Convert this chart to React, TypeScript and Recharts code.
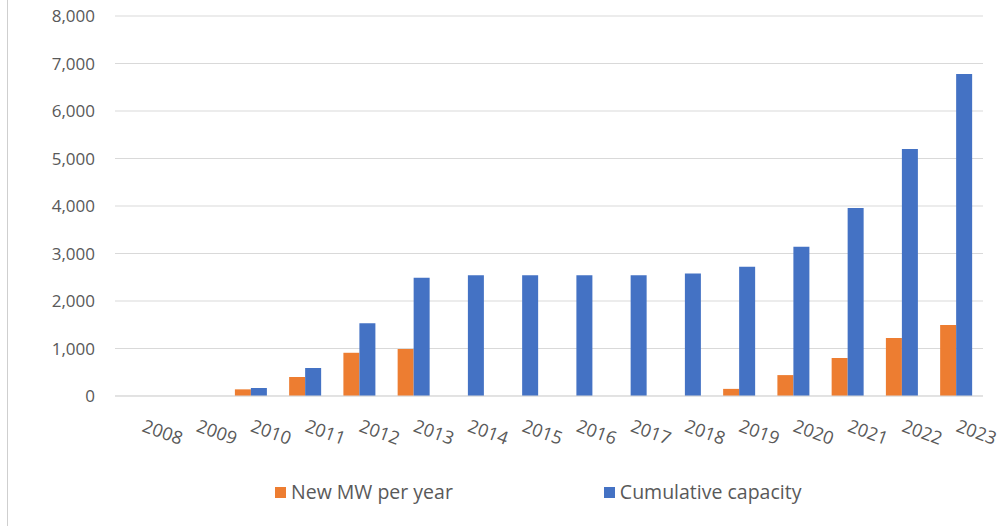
import { BarChart, Bar, XAxis, YAxis, CartesianGrid } from 'recharts';

const years = ['2008', '2009', '2010', '2011', '2012', '2013', '2014', '2015', '2016', '2017', '2018', '2019', '2020', '2021', '2022', '2023'];
const newMw = [0, 0, 140, 400, 910, 990, 0, 0, 0, 0, 0, 150, 440, 800, 1220, 1495];
const cumulative = [0, 0, 170, 590, 1530, 2490, 2540, 2540, 2540, 2540, 2580, 2720, 3140, 3960, 5200, 6780];
const yTicks = [0, 1000, 2000, 3000, 4000, 5000, 6000, 7000, 8000];

const ORANGE = '#ED7D31';
const BLUE = '#4472C4';
const TEXT = '#595959';
const FONT = '"Open Sans", "Noto Sans", sans-serif';

const series = [
    { key: 'newMw', label: 'New MW per year', color: ORANGE },
    { key: 'cumulative', label: 'Cumulative capacity', color: BLUE },
];

const data = years.map((year, i) => ({ year, newMw: newMw[i], cumulative: cumulative[i] }));

const YearTick = ({ x, y, payload }: any) => {
    const tx = x - 1;
    const ty = y + 27;
    return (
        <text x={tx} y={ty} transform={`rotate(20, ${tx}, ${ty})`} textAnchor="start" fill={TEXT} fontSize={18} fontFamily={FONT}>
            {payload.value}
        </text>
    );
};

export default function App() {
    return (
        <div style={{ position: 'absolute', left: 0, top: 0, width: 1005, height: 526, background: '#fff' }}>
            <div style={{ position: 'absolute', left: 7, top: 0, width: 1, height: 526, background: '#cfcfcf' }} />
            <BarChart
                width={1005}
                height={526}
                data={data}
                margin={{ top: 16, right: 22, left: 0, bottom: 100 }}
                barCategoryGap="21%"
                barGap={0}
            >
                <CartesianGrid vertical={false} stroke="#d9d9d9" />
                <XAxis dataKey="year" height={30} tick={<YearTick />} tickLine={false} axisLine={{ stroke: '#d9d9d9' }} interval={0} />
                <YAxis
                    width={115}
                    domain={[0, 8000]}
                    ticks={yTicks}
                    tickFormatter={(v: number) => v.toLocaleString('en-US')}
                    tick={{ fill: TEXT, fontSize: 17, fontFamily: FONT }}
                    tickMargin={14}
                    tickLine={false}
                    axisLine={false}
                />
                {series.map(s => (
                    <Bar key={s.key} dataKey={s.key} name={s.label} fill={s.color} isAnimationActive={false} />
                ))}
            </BarChart>
            {/* legend row under the axis labels */}
            <div style={{ position: 'absolute', left: 275, top: 479, display: 'flex', gap: 151, fontFamily: FONT, fontSize: 19.5, color: TEXT, lineHeight: '26px' }}>
                {series.map(s => (
                    <div key={s.key} style={{ display: 'flex', alignItems: 'center', gap: 5 }}>
                        <div style={{ width: 11, height: 11, background: s.color }} />
                        <span>{s.label}</span>
                    </div>
                ))}
            </div>
        </div>
    );
}
